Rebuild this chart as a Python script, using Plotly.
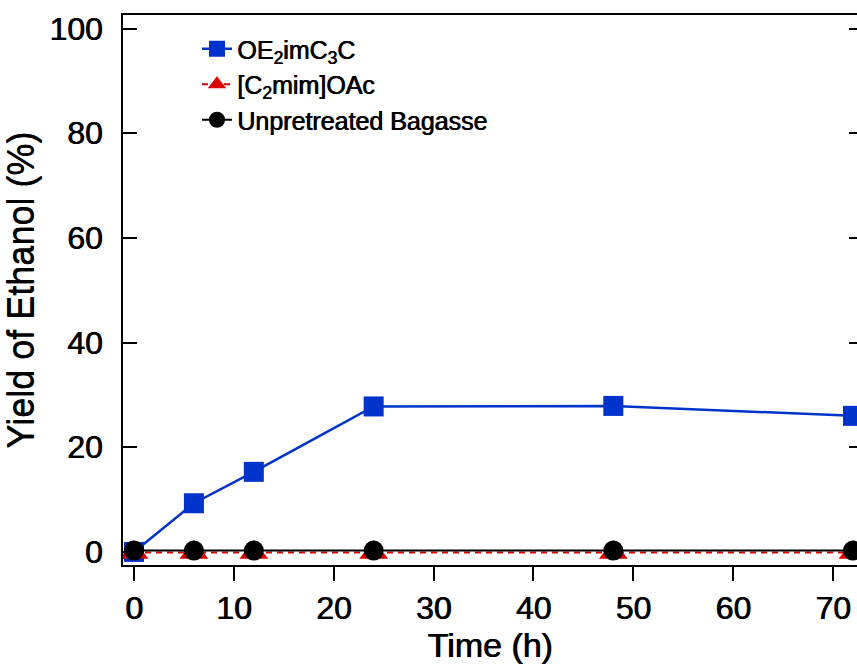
import plotly.graph_objects as go

time_h = [0, 6, 12, 24, 48, 72]
oe_yield = [0.0, 9.3, 15.3, 27.8, 27.9, 26.0]
c2mim_yield = [-0.1, -0.1, -0.1, -0.1, -0.1, -0.1]
unpre_yield = [0.25, 0.25, 0.25, 0.25, 0.25, 0.25]
names = ["OE<sub>2</sub>imC<sub>3</sub>C", "[C<sub>2</sub>mim]OAc", "Unpretreated Bagasse"]
x_ticks = [0, 10, 20, 30, 40, 50, 60, 70]
y_ticks = [0, 20, 40, 60, 80, 100]

FONT = "Liberation Sans, Arial, sans-serif"
SH = "0.8px 0px 0px black"

fig = go.Figure()
fig.add_trace(go.Scatter(x=time_h, y=oe_yield, name=names[0], mode="lines+markers",
                         line=dict(color="#0033CC", width=2.5),
                         marker=dict(symbol="square", size=20, color="#0033CC")))
fig.add_trace(go.Scatter(x=time_h, y=c2mim_yield, name=names[1], mode="lines+markers",
                         line=dict(color="#DD0000", width=2, dash="6px,5px"),
                         marker=dict(symbol="triangle-up", size=25, color="#DD0000")))
fig.add_trace(go.Scatter(x=time_h, y=unpre_yield, name=names[2], mode="lines+markers",
                         line=dict(color="black", width=2),
                         marker=dict(symbol="circle", size=20, color="black")))
# invisible trace for right-side mirrored ticks
fig.add_trace(go.Scatter(x=[time_h[0]], y=[unpre_yield[0]], yaxis="y2", showlegend=False,
                         mode="markers", marker=dict(opacity=0), hoverinfo="skip"))

yr = [-2.5, 102.6]
fig.update_layout(
    width=857, height=670,
    margin=dict(l=123, r=0, t=15, b=105),
    paper_bgcolor="white", plot_bgcolor="white",
    font=dict(family=FONT, color="black"),
    showlegend=True,
    legend=dict(x=(197 - 123) / 734, y=(670 - 105 - 26) / 550, xanchor="left", yanchor="top",
                bgcolor="rgba(0,0,0,0)", font=dict(size=25, family=FONT, shadow=SH),
                tracegroupgap=0, itemwidth=30),
    xaxis=dict(range=[-1.1, 72.4], tickvals=x_ticks, ticks="outside", ticklen=14, tickwidth=2,
               tickcolor="black", showline=True, linewidth=2, linecolor="black", mirror=True,
               showgrid=False, zeroline=False,
               tickfont=dict(size=32, family=FONT, shadow=SH),
               title=dict(text="Time (h)", font=dict(size=34, family=FONT, shadow=SH), standoff=8)),
    yaxis=dict(range=yr, tickvals=y_ticks, ticks="inside", ticklen=14, tickwidth=2,
               tickcolor="black", showline=True, linewidth=2, linecolor="black", mirror=False,
               showgrid=False, zeroline=False, ticklabelstandoff=12,
               tickfont=dict(size=32, family=FONT, shadow=SH),
               title=dict(text="Yield of Ethanol (%)", font=dict(size=36, family=FONT, shadow="0px 0.8px 0px black"), standoff=10)),
    yaxis2=dict(range=yr, tickvals=y_ticks, overlaying="y", side="right", ticks="inside", ticklen=8,
                tickwidth=2, tickcolor="black", showline=False, showticklabels=False,
                showgrid=False, zeroline=False),
)

fig.write_html("out.html")
